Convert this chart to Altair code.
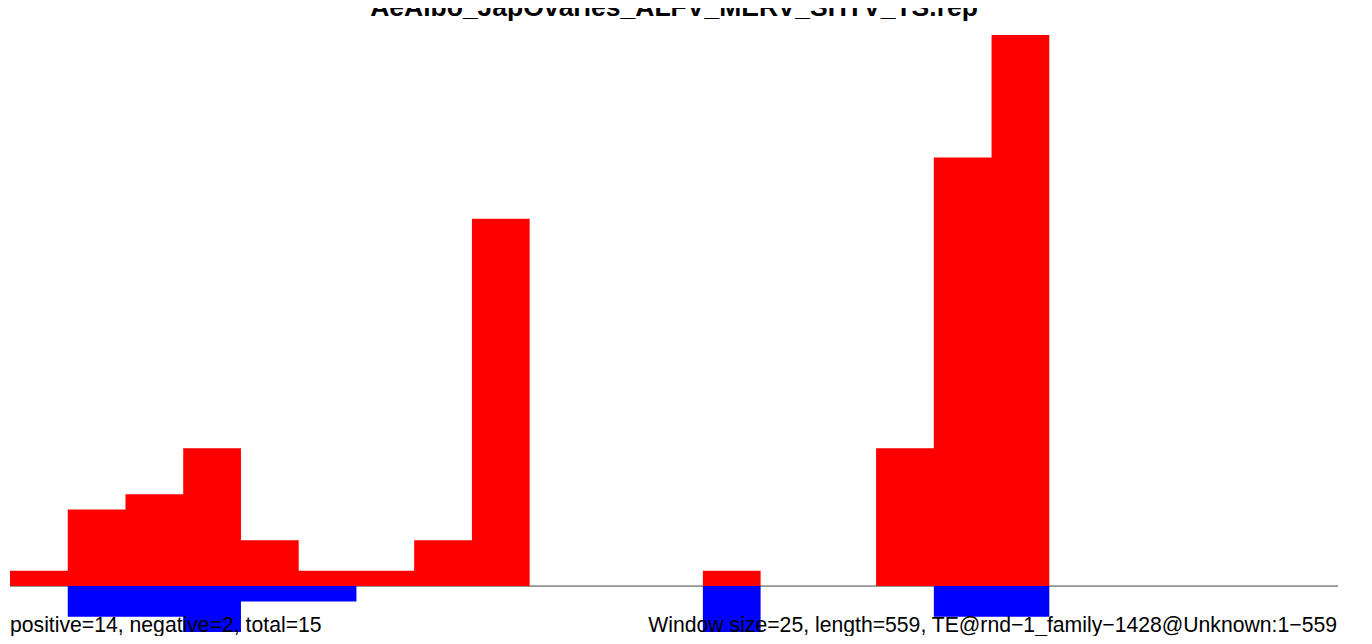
import altair as alt
import pandas as pd

# Data (window size 25, length 559 -> 23 windows)
window_size = 25
n_windows = 23
positive_counts = [1, 5, 6, 9, 3, 1, 1, 3, 24, 0, 0, 0, 1, 0, 0, 9, 28, 36, 0, 0, 0, 0, 0]
negative_counts = [0, 2, 2, 3, 1, 1, 0, 0, 0, 0, 0, 0, 3, 0, 0, 0, 2, 2, 0, 0, 0, 0, 0]

title_text = "AeAlbo_JapOvaries_ALFV_MERV_SHTV_TS.rep"
left_note = "positive=14, negative=2, total=15"
right_note = "Window size=25, length=559, TE@rnd\u22121_family\u22121428@Unknown:1\u2212559"

W, H = 1328, 597
FONT = "Liberation Sans"

# step outline: each window start plus the closing edge of the last window
edges = [i * window_size for i in range(n_windows + 1)]
df = pd.DataFrame({
    "x": edges,
    "pos": positive_counts + [0],
    "neg": [-v for v in negative_counts] + [0],
    "zero": [0] * (n_windows + 1),
})

xs = alt.Scale(domain=[0, n_windows * window_size], nice=False, zero=False)
ys = alt.Scale(domain=[-3, 36], nice=False, zero=False)

base = alt.Chart(df)

baseline = alt.Chart(pd.DataFrame({"zero": [0]})).mark_rule(
    color="#444444", strokeWidth=1
).encode(
    x=alt.value(0), x2=alt.value(W),
    y=alt.Y("zero:Q", scale=ys, axis=None),
)

neg_bars = base.mark_area(
    color="#0000FF", interpolate="step-after", opacity=1
).encode(
    x=alt.X("x:Q", scale=xs, axis=None),
    y=alt.Y("neg:Q", scale=ys, axis=None),
    y2="zero:Q",
)

pos_bars = base.mark_area(
    color="#FF0000", interpolate="step-after", opacity=1
).encode(
    x=alt.X("x:Q", scale=xs, axis=None),
    y=alt.Y("pos:Q", scale=ys, axis=None),
    y2="zero:Q",
)

title = alt.Chart(pd.DataFrame({"t": [title_text]})).mark_text(
    font=FONT, fontSize=26.5, fontWeight="bold", align="center", baseline="alphabetic",
    color="black",
).encode(x=alt.value(W / 2), y=alt.value(-19), text="t:N")

left = alt.Chart(pd.DataFrame({"t": [left_note]})).mark_text(
    font=FONT, fontSize=21.2, align="left", baseline="alphabetic", color="black",
).encode(x=alt.value(0), y=alt.value(596.5), text="t:N")

right = alt.Chart(pd.DataFrame({"t": [right_note]})).mark_text(
    font=FONT, fontSize=21.2, align="right", baseline="alphabetic", color="black",
).encode(x=alt.value(W - 1), y=alt.value(596.5), text="t:N")

chart = alt.layer(baseline, neg_bars, pos_bars, title, left, right).properties(
    width=W, height=H,
    padding={"left": 2, "top": 27, "right": 26, "bottom": 4},
    autosize=alt.AutoSizeParams(type="none"),
).configure_view(stroke=None)

chart.save("out.html", embed_options={"renderer": "svg", "actions": False})
